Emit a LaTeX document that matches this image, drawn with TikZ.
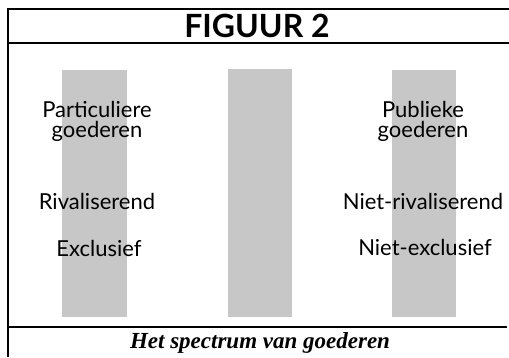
\documentclass[tikz,border=0pt]{standalone}
\usepackage{fontspec}
\setmainfont{Lato}
\newfontfamily\capfont{Liberation Serif}
\begin{document}
\begin{tikzpicture}[x=1pt,y=-1pt,
  frameline/.style={line width=1.1pt,black},
  bar/.style={fill=black!22,draw=none},
  lbl/.style={anchor=base,inner sep=0pt,font=\fontsize{22}{19}\selectfont},
  titlelbl/.style={anchor=base,inner sep=0pt,font=\fontsize{32}{32}\selectfont\bfseries},
  caplbl/.style={anchor=base,inner sep=0pt,font=\capfont\fontsize{23}{23}\selectfont\bfseries\itshape}]
\useasboundingbox (0,0) rectangle (509,357);
% frame
\coordinate (tl) at (8,9);
\coordinate (tr) at (509,9);
\coordinate (ml) at (8,43);
\coordinate (mr) at (509,43);
\coordinate (bl) at (8,327);
\coordinate (br) at (507,327);
\coordinate (lb) at (8,357);
\draw[frameline] (tr) -- (tl) -- (lb);
\draw[frameline] (ml) -- (mr);
\draw[frameline] (bl) -- (br);
% bars
\fill[bar] (62,70) rectangle (127,317);
\fill[bar] (228,69) rectangle (292,317);
\fill[bar] (392,70) rectangle (456,317);
% title
\node[titlelbl] (title) at (257,37) {FIGUUR 2};
% left column
\node[lbl] (p1) at (97,117) {Particuliere};
\node[lbl,text depth=0pt] (p2) at (97,137) {goederen};
\node[lbl] (riv) at (97,209) {Rivaliserend};
\node[lbl] (exc) at (99,256) {Exclusief};
% right column
\node[lbl] (q1) at (423,117) {Publieke};
\node[lbl,text depth=0pt] (q2) at (423,137) {goederen};
\node[lbl] (nriv) at (423,209) {Niet-rivaliserend};
\node[lbl] (nexc) at (425,255) {Niet-exclusief};
% caption
\node[caplbl] (cap) at (260,348) {Het spectrum van goederen};
\end{tikzpicture}
\end{document}
